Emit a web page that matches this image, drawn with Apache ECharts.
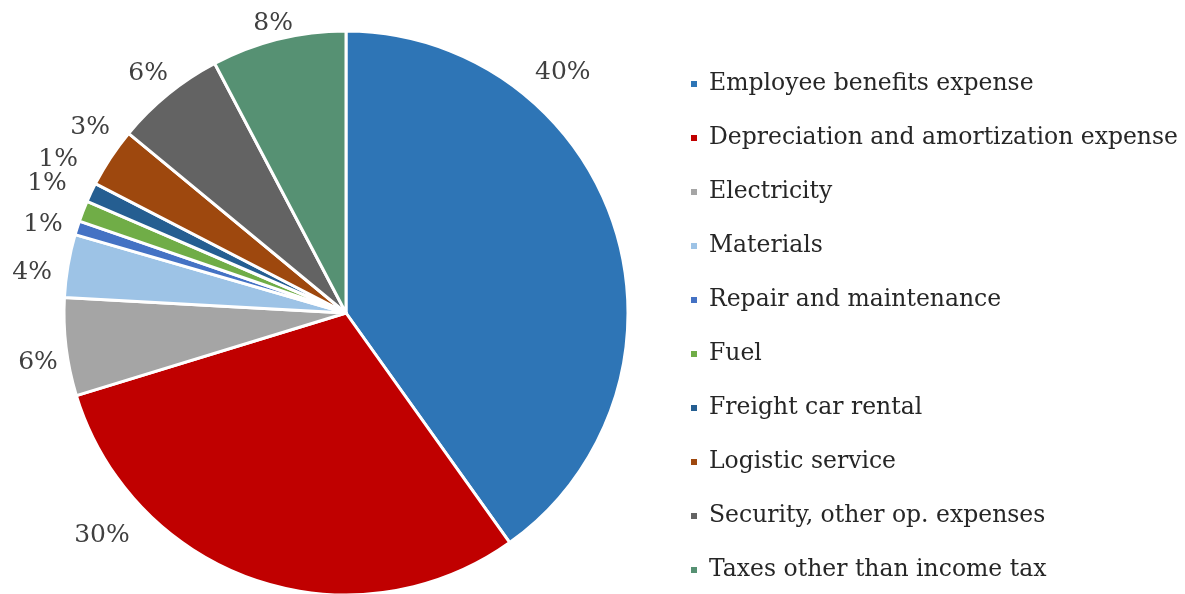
<!DOCTYPE html>
<html><head><meta charset="utf-8">
<script src="https://cdn.jsdelivr.net/npm/echarts@6/dist/echarts.min.js"></script>
<style>html,body{margin:0;padding:0;background:#fff}#c{width:1185px;height:594px}</style>
</head><body><div id="c"></div>
<script>
const categories = ["Employee benefits expense","Depreciation and amortization expense","Electricity","Materials","Repair and maintenance","Fuel","Freight car rental","Logistic service","Security, other op. expenses","Taxes other than income tax"];
const values = [40.1, 30.1, 5.6, 3.6, 0.8, 1.2, 1.1, 3.4, 6.3, 7.7];
const labels = ["40%","30%","6%","4%","1%","1%","1%","3%","6%","8%"];
const colors = ["#2E75B6","#C00000","#A5A5A5","#9DC3E6","#4472C4","#70AD47","#255E91","#9E480E","#636363","#569173"];
const font = "DejaVu Serif";
// layout (style) settings: pie geometry and label placement (angle from top, distance from centre)
const CX = 346, CY = 313, R = 282;
const labelAngles = [42, 227.7, 260.8, 277.3, 286.2, 293.5, 298, 305.9, 320.5, 345.9];
const labelDists  = [324, 330, 312, 316.5, 315.5, 326, 326, 315.8, 311, 299];
const chart = echarts.init(document.getElementById('c'));
chart.setOption({
  animation:false,
  color: colors,
  legend:{
    orient:'vertical', left:689, top:72, padding:0,
    icon:'rect', itemWidth:8, itemHeight:8, itemGap:30,
    textStyle:{fontFamily:font, fontSize:23.5, color:'#262626', lineHeight:24, padding:[0,0,0,6]},
    data: categories
  },
  series:[{
    type:'pie', center:[CX,CY], radius:[0,R], startAngle:90, clockwise:true,
    avoidLabelOverlap:false,
    itemStyle:{borderColor:'#fff', borderWidth:3},
    label:{show:true, position:'outside', fontFamily:font, fontSize:25, color:'#404040',
      formatter: p => labels[p.dataIndex]},
    labelLine:{show:false, length:6, length2:0},
    labelLayout: p => {
      const a = labelAngles[p.dataIndex]*Math.PI/180, d = labelDists[p.dataIndex];
      return {x: CX + d*Math.sin(a), y: CY - d*Math.cos(a), align:'center', verticalAlign:'middle'};
    },
    data: categories.map((c,i)=>({name:c, value:values[i]}))
  }]
});
</script></body></html>
